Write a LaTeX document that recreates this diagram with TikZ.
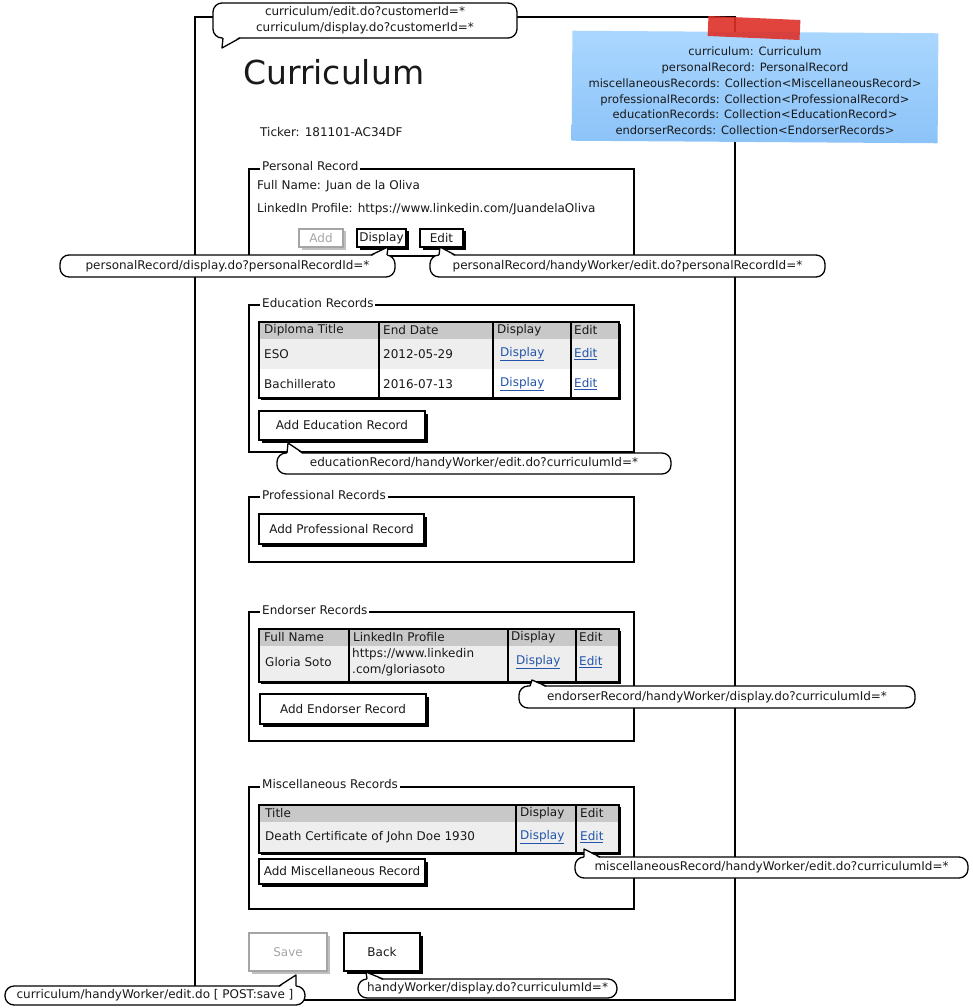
\documentclass[tikz,border=0pt]{standalone}
\usepackage{fontspec}
\setmainfont{DejaVu Sans}
\usepackage{xcolor}
\usepackage{tikz}
\usetikzlibrary{shadows, positioning}
\definecolor{hdrgray}{RGB}{200,200,200}
\definecolor{rowgray}{RGB}{238,238,238}
\definecolor{linkblue}{RGB}{35,85,170}
\definecolor{notetop}{RGB}{170,215,255}
\definecolor{notebot}{RGB}{140,195,248}
\definecolor{tapered}{RGB}{222,48,40}
\definecolor{offgray}{RGB}{165,165,165}
\newcommand{\lnk}[1]{\textcolor{linkblue}{\underline{#1}}}
% tail of a bubble pointing up: bubble, left offset, right offset, tip
\newcommand{\tailup}[4]{%
  \fill[white] ([xshift=#2pt,yshift=-1.6pt]#1.north west) -- (#4) -- ([xshift=#3pt,yshift=-1.6pt]#1.north west) -- cycle;
  \draw[wire, line join=round] ([xshift=#2pt]#1.north west) -- (#4) -- ([xshift=#3pt]#1.north west);}
% tail of a bubble pointing down
\newcommand{\taildown}[4]{%
  \fill[white] ([xshift=#2pt,yshift=1.6pt]#1.south west) -- (#4) -- ([xshift=#3pt,yshift=1.6pt]#1.south west) -- cycle;
  \draw[wire, line join=round] ([xshift=#2pt]#1.south west) -- (#4) -- ([xshift=#3pt]#1.south west);}

\begin{document}
\begin{tikzpicture}[x=1pt, y=-1pt,
  every node/.style={font=\fontsize{12}{14}\selectfont, text=black!90},
  wire/.style={line width=1.3pt, black},
  legend/.style={fill=white, inner xsep=2pt, inner ysep=0pt, anchor=west},
  txt/.style={anchor=west, inner sep=0pt},
  btn/.style={draw, line width=1.3pt, fill=white, inner sep=0pt, outer sep=0pt,
    drop shadow={shadow xshift=2.5pt, shadow yshift=-2.5pt, fill=black, opacity=1}},
  offbtn/.style={draw=offgray, line width=1.3pt, fill=white, inner sep=0pt, outer sep=0pt, text=offgray,
    drop shadow={shadow xshift=2.5pt, shadow yshift=-2.5pt, fill=black!25, opacity=1}},
  tbl/.style={draw, line width=1.3pt, fill=white, inner sep=0pt, outer sep=0pt,
    drop shadow={shadow xshift=2pt, shadow yshift=-2pt, fill=black, opacity=1}},
  bubble/.style={draw, line width=1.3pt, fill=white, rounded corners=9pt, inner sep=0pt, outer sep=0pt, align=center}]

\useasboundingbox[fill=white] (0,0) rectangle (972,1008);

% page frame
\draw[wire, line width=1.5pt] (195,17) rectangle (735,1000);

% sticky note
\shade[top color=notetop, bottom color=notebot, rotate around={-0.4:(755,87)}] (572,32) rectangle (938,142);
\fill[tapered, opacity=.9, rotate around={-2.5:(754,28)}] (708,18) rectangle (800,38);
\node[align=center, font=\fontsize{11.5}{15.8}\selectfont] (note) at (755,91) {curriculum: Curriculum\\
  personalRecord: PersonalRecord\\
  miscellaneousRecords: Collection<MiscellaneousRecord>\\
  professionalRecords: Collection<ProfessionalRecord>\\
  educationRecords: Collection<EducationRecord>\\
  endorserRecords: Collection<EndorserRecords>};

\node[txt, font=\fontsize{33}{38}\selectfont] (title) at (243,72) {Curriculum};
\node[txt] (ticker) at (260,132) {Ticker: 181101-AC34DF};

% personal record
\draw[wire] (249,169) rectangle (634,256);
\node[legend] (perleg) at (260,166) {Personal Record};
\node[txt] (pername) at (257,186) {Full Name: Juan de la Oliva};
\node[txt] (perlink) at (257,209) {LinkedIn Profile: https://www.linkedin.com/JuandelaOliva};
\node[offbtn, minimum width=44pt, minimum height=18pt] (addp) at (321,238) {Add};
\node[btn, minimum width=49pt, minimum height=18pt] (dispp) at (381.5,238) {Display};
\node[btn, minimum width=43pt, minimum height=18pt] (editp) at (441.5,238) {Edit};

% education records
\draw[wire] (249,305) rectangle (634,452);
\node[legend] (eduleg) at (260,303) {Education Records};
\node[tbl, minimum width=360pt, minimum height=76pt] (edutab) at (439,360) {};
\fill[hdrgray] (259,322) rectangle (619,339);
\fill[rowgray] (259,339) rectangle (619,369);
\foreach \x in {379,493,571} \draw[wire] (\x,322) -- (\x,398);
\draw[wire] (edutab.north west) rectangle (edutab.south east);
\foreach \x/\t [count=\i] in {264/Diploma Title, 383/End Date, 497/Display, 574/Edit}
  \node[txt] (eduh\i) at (\x,330.5) {\t};
\foreach \y/\a/\b [count=\i] in {354/ESO/2012-05-29, 384/Bachillerato/2016-07-13} {
  \node[txt] (edua\i) at (264,\y) {\a};
  \node[txt] (edub\i) at (383,\y) {\b};
  \node[txt] (educ\i) at (500,\y) {\lnk{Display}};
  \node[txt] (edud\i) at (574,\y) {\lnk{Edit}};
}
\node[btn, minimum width=166pt, minimum height=29pt] (addedu) at (342,425.5) {Add Education Record};

% professional records
\draw[wire] (249,497) rectangle (634,562);
\node[legend] (proleg) at (260,495) {Professional Records};
\node[btn, minimum width=165pt, minimum height=30pt] (addpro) at (341.5,529) {Add Professional Record};

% endorser records
\draw[wire] (249,612) rectangle (634,741);
\node[legend] (endleg) at (260,610) {Endorser Records};
\node[tbl, minimum width=360pt, minimum height=53pt] (endtab) at (439,655.5) {};
\fill[hdrgray] (259,629) rectangle (619,646);
\fill[rowgray] (259,646) rectangle (619,682);
\foreach \x in {349,508,576} \draw[wire] (\x,629) -- (\x,682);
\draw[wire] (endtab.north west) rectangle (endtab.south east);
\foreach \x/\t [count=\i] in {264/Full Name, 353/LinkedIn Profile, 511/Display, 579/Edit}
  \node[txt] (endh\i) at (\x,637.5) {\t};
\node[txt] (enda) at (265,662) {Gloria Soto};
\node[txt, align=left, font=\fontsize{12}{16}\selectfont] (endb) at (352,662) {https://www.linkedin\\.com/gloriasoto};
\node[txt] (endc) at (516,662) {\lnk{Display}};
\node[txt] (endd) at (579,662) {\lnk{Edit}};
\node[btn, minimum width=166pt, minimum height=30pt] (addend) at (343,709) {Add Endorser Record};

% miscellaneous records
\draw[wire] (249,787) rectangle (634,909);
\node[legend] (misleg) at (260,784) {Miscellaneous Records};
\node[tbl, minimum width=360pt, minimum height=48pt] (mistab) at (439,829) {};
\fill[hdrgray] (259,805) rectangle (619,822);
\fill[rowgray] (259,822) rectangle (619,853);
\foreach \x in {516,576} \draw[wire] (\x,805) -- (\x,853);
\draw[wire] (mistab.north west) rectangle (mistab.south east);
\foreach \x/\t [count=\i] in {265/Title, 520/Display, 580/Edit}
  \node[txt] (mish\i) at (\x,813.5) {\t};
\node[txt] (misa) at (265,837) {Death Certificate of John Doe 1930};
\node[txt] (misc) at (520,837) {\lnk{Display}};
\node[txt] (misd) at (580,837) {\lnk{Edit}};
\node[btn, minimum width=166pt, minimum height=25pt] (addmis) at (342,871.5) {Add Miscellaneous Record};

% save / back
\node[offbtn, minimum width=78pt, minimum height=38pt] (save) at (288,952) {Save};
\node[btn, minimum width=76pt, minimum height=38pt] (back) at (382,952) {Back};

% bubbles
\node[bubble, minimum width=304pt, minimum height=35pt, font=\fontsize{12}{16}\selectfont] (tb) at (365,20.5)
  {curriculum/edit.do?customerId=*\\curriculum/display.do?customerId=*};
\taildown{tb}{10}{27}{222,48}
\node[bubble, minimum width=335pt, minimum height=22pt] (pdb) at (227.5,266) {personalRecord/display.do?personalRecordId=*};
\tailup{pdb}{311}{327}{388,247}
\node[bubble, minimum width=395pt, minimum height=22pt] (peb) at (627.5,266) {personalRecord/handyWorker/edit.do?personalRecordId=*};
\tailup{peb}{9}{25}{440,247}
\node[bubble, minimum width=394pt, minimum height=21pt] (edb) at (474,463.5) {educationRecord/handyWorker/edit.do?curriculumId=*};
\tailup{edb}{10}{26}{288,443}
\node[bubble, minimum width=396pt, minimum height=22pt] (enb) at (717,697) {endorserRecord/handyWorker/display.do?curriculumId=*};
\tailup{enb}{11}{27}{532,680}
\node[bubble, minimum width=393pt, minimum height=21pt] (mib) at (771.5,867.5) {miscellaneousRecord/handyWorker/edit.do?curriculumId=*};
\tailup{mib}{9}{25}{584,849}
\node[bubble, minimum width=300pt, minimum height=19pt] (svb) at (155,995.5) {curriculum/handyWorker/edit.do [ POST:save ]};
\tailup{svb}{274}{291}{296,975}
\node[bubble, minimum width=259pt, minimum height=19pt] (bkb) at (487.5,988.5) {handyWorker/display.do?curriculumId=*};
\tailup{bkb}{9}{25}{366,972}

\end{tikzpicture}
\end{document}
